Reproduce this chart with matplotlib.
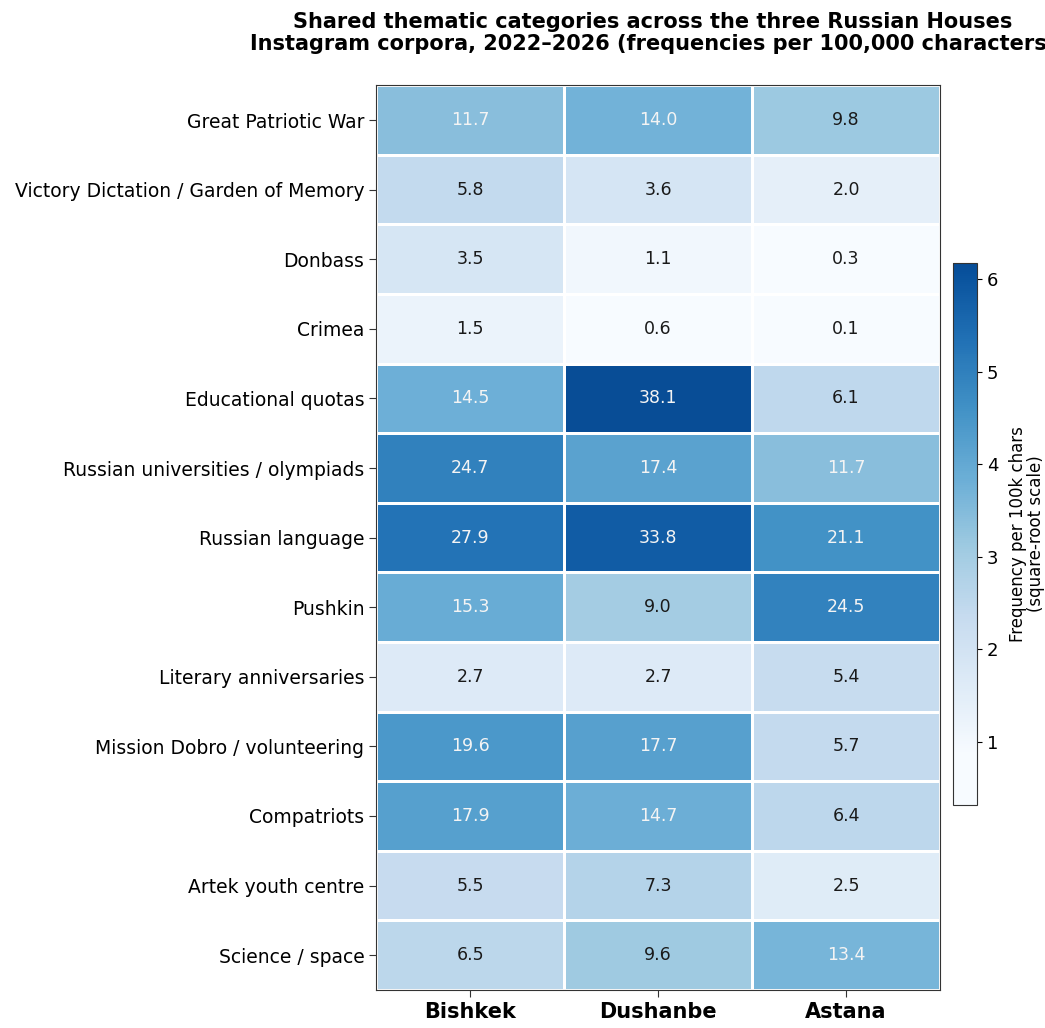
import numpy as np
import matplotlib
matplotlib.use('Agg')
import matplotlib.pyplot as plt
from matplotlib.colors import LinearSegmentedColormap

categories = ['Great Patriotic War', 'Victory Dictation / Garden of Memory', 'Donbass',
              'Crimea', 'Educational quotas', 'Russian universities / olympiads',
              'Russian language', 'Pushkin', 'Literary anniversaries',
              'Mission Dobro / volunteering', 'Compatriots', 'Artek youth centre',
              'Science / space']
cities = ['Bishkek', 'Dushanbe', 'Astana']
bishkek = [11.7, 5.8, 3.5, 1.5, 14.5, 24.7, 27.9, 15.3, 2.7, 19.6, 17.9, 5.5, 6.5]
dushanbe = [14.0, 3.6, 1.1, 0.6, 38.1, 17.4, 33.8, 9.0, 2.7, 17.7, 14.7, 7.3, 9.6]
astana = [9.8, 2.0, 0.3, 0.1, 6.1, 11.7, 21.1, 24.5, 5.4, 5.7, 6.4, 2.5, 13.4]

vals = np.array([bishkek, dushanbe, astana]).T
sq = np.sqrt(vals)
vmin, vmax = sq.min(), sq.max()

# Blues, with the lightest end held a bit and the darkest navy cut off
blues = plt.get_cmap('Blues')
cmap = LinearSegmentedColormap.from_list(
    'blues_cut', blues(np.clip(np.linspace(-0.09, 0.887, 256), 0, 1)))

fig = plt.figure(figsize=(10.45, 10.28), dpi=100)
ax = fig.add_axes([0.36, 0.037, 0.5395, 0.88])
mesh = ax.pcolormesh(sq, cmap=cmap, vmin=vmin, vmax=vmax,
                     edgecolors='white', linewidth=2)
ax.set_xlim(0, 3)
ax.set_ylim(len(categories), 0)

thr = (vmin + vmax) / 2
for i in range(len(categories)):
    for j in range(3):
        c = '#f4f4f4' if sq[i, j] > thr else '#1a1a1a'
        ax.text(j + 0.5, i + 0.5, f'{vals[i, j]:.1f}', ha='center', va='center',
                fontsize=12.5, color=c)

ax.set_xticks(np.arange(3) + 0.5)
ax.set_xticklabels(cities, fontsize=15, fontweight='bold')
ax.set_yticks(np.arange(len(categories)) + 0.5)
ax.set_yticklabels(categories, fontsize=13.5)
ax.tick_params(length=5, color='#333333')
for s in ax.spines.values():
    s.set_color('#333333')

cax = fig.add_axes([0.912, 0.217, 0.023, 0.527])
cb = fig.colorbar(mesh, cax=cax)
cb.ax.tick_params(labelsize=13)
cb.set_label('Frequency per 100k chars\n(square-root scale)', fontsize=12, labelpad=8,
             linespacing=0.95)
cb.outline.set_edgecolor('#333333')

fig.text(0.625, 0.988, 'Shared thematic categories across the three Russian Houses\n'
         'Instagram corpora, 2022\u20132026 (frequencies per 100,000 characters)',
         ha='center', va='top', fontsize=15, fontweight='bold', linespacing=1.1)

fig.savefig('out.png', dpi=100)
